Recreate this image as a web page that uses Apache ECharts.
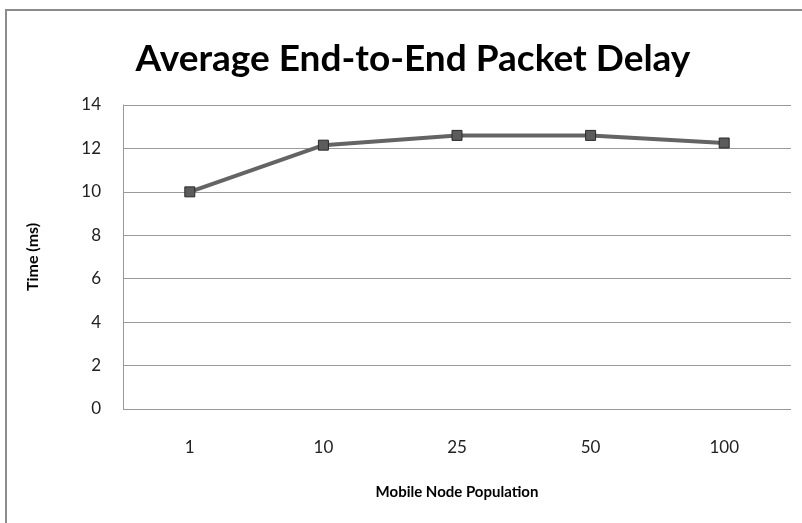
<!DOCTYPE html>
<html>
<head>
<meta charset="utf-8">
<style>
  html, body { margin: 0; padding: 0; background: #fff; }
  #frame { position: absolute; left: 5px; top: 9px; width: 820px; height: 540px; border-left: 2px solid #8c8c8c; border-top: 2px solid #8c8c8c; }
  #chart { position: absolute; left: 0; top: 0; width: 802px; height: 523px; }
</style>
<script src="https://cdn.jsdelivr.net/npm/echarts@6/dist/echarts.min.js"></script>
</head>
<body>
<div id="frame"></div>
<div id="chart"></div>
<script>
// Mobile node population vs. average end-to-end delay (ms)
const categories = ['1', '10', '25', '50', '100'];
const delayMs = [10.0, 12.15, 12.6, 12.6, 12.25];
const yTicks = { min: 0, max: 14, interval: 2 };

const FONT = 'Lato, "Open Sans", sans-serif';

const chart = echarts.init(document.getElementById('chart'), null, { renderer: 'canvas' });
chart.setOption({
  backgroundColor: 'transparent',
  animation: false,
  title: {
    text: 'Average End-to-End Packet Delay',
    left: 408,
    top: 36,
    textAlign: 'center',
    textStyle: { fontFamily: FONT, fontWeight: 'bold', fontSize: 37, color: '#000' }
  },
  grid: { left: 123, right: 11, top: 105, bottom: 114 },
  xAxis: {
    type: 'category',
    data: categories,
    boundaryGap: true,
    name: 'Mobile Node Population',
    nameLocation: 'middle',
    nameGap: 76,
    nameTextStyle: { fontFamily: FONT, fontWeight: 'bold', fontSize: 15, color: '#000' },
    axisLine: { show: false },
    axisTick: { show: false },
    axisLabel: { fontFamily: FONT, fontSize: 17, color: '#222', margin: 30 }
  },
  yAxis: {
    type: 'value',
    min: yTicks.min,
    max: yTicks.max,
    interval: yTicks.interval,
    name: 'Time (ms)',
    nameLocation: 'middle',
    nameGap: 82,
    nameTextStyle: { fontFamily: FONT, fontWeight: 'bold', fontSize: 16, color: '#000' },
    axisLine: { show: true, lineStyle: { color: '#999', width: 1 } },
    axisTick: { show: false },
    axisLabel: { fontFamily: FONT, fontSize: 17, color: '#222', margin: 22 },
    splitLine: { show: true, lineStyle: { color: '#9a9a9a', width: 1 } }
  },
  series: [{
    type: 'line',
    data: delayMs,
    symbol: 'rect',
    symbolSize: 10,
    lineStyle: { color: '#646464', width: 4 },
    itemStyle: { color: '#5c5c5c', borderColor: '#2a2a2a', borderWidth: 1 },
    z: 3
  }]
});
</script>
</body>
</html>
